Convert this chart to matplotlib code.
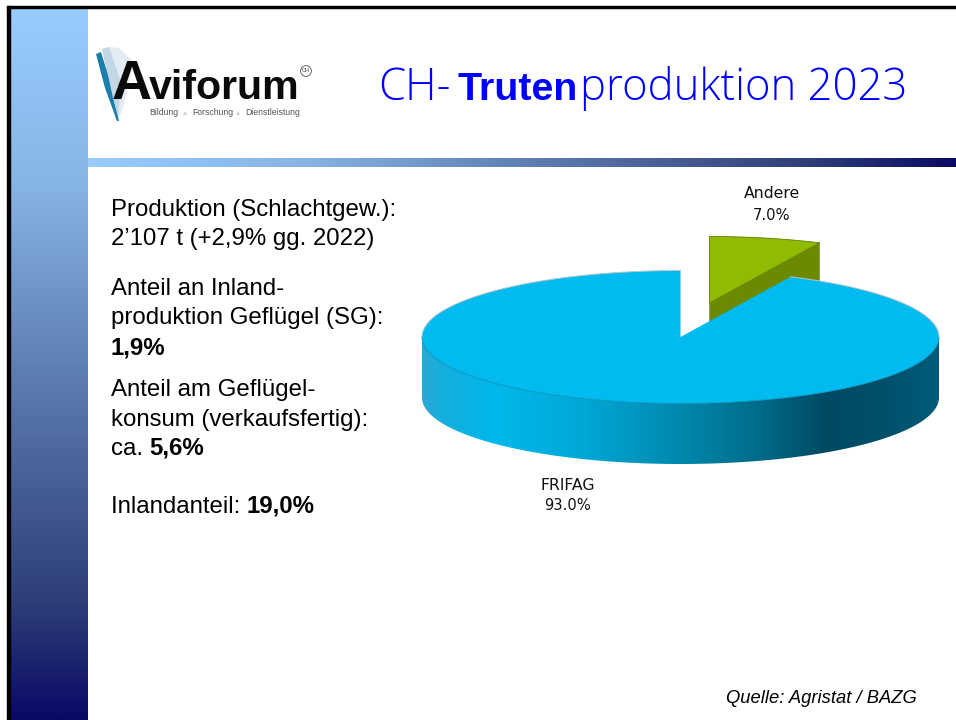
import numpy as np
import matplotlib.pyplot as plt
from matplotlib.colors import LinearSegmentedColormap
from matplotlib.patches import Polygon, Rectangle

# Pie data
labels = ["FRIFAG", "Andere"]
shares = [93.0, 7.0]

# Slide texts
title_parts = ["CH-", "Truten", "produktion 2023"]
source = "Quelle: Agristat / BAZG"

plt.rcParams["font.family"] = ["Liberation Sans", "DejaVu Sans"]

fig = plt.figure(figsize=(9.56, 7.2), dpi=100)
ax = fig.add_axes([0, 0, 1, 1])
ax.axis("off")

# Slide background: left band and header bar
band = LinearSegmentedColormap.from_list(
    "band", [(0, "#99ccff"), (0.25, "#86b4e4"), (0.5, "#5f80b4"), (0.83, "#2f3f78"), (1, "#0a0a66")])
ax.imshow(np.linspace(0, 1, 256)[:, None], cmap=band, extent=(10, 88, 720, 8), aspect="auto", zorder=1)
ax.imshow(np.linspace(0, 1, 256)[None, :], cmap=band, extent=(88, 956, 167, 158), aspect="auto", zorder=1)
ax.set_xlim(0, 956)
ax.set_ylim(720, 0)
ax.add_patch(Rectangle((7.5, 6), 948.5, 2.3, color="black", zorder=2))
ax.add_patch(Rectangle((7.5, 6), 2.5, 714, color="black", zorder=2))

# Logo
swoosh = [("#e4ecf3", [(108, 47), (119, 48), (134, 62), (122, 112), (117, 120)]),
          ("#c3d6e4", [(102, 49), (109, 47), (121, 82), (118, 120), (116, 120)]),
          ("#1a7ea8", [(96, 54), (101, 52), (108, 75), (113, 98), (119, 121), (117, 121), (105, 88)])]
for col, pts in swoosh:
    ax.add_patch(Polygon(pts, closed=True, fc=col, ec="none", zorder=2))
ax.text(112, 99, "A", fontsize=40, fontweight="bold", color="#0a0a0a", va="baseline", zorder=3)
ax.text(149, 99, "viforum", fontsize=29.6, fontweight="bold", color="#0a0a0a", va="baseline", zorder=3)
for tx, word in zip([149, 192, 245], ["Bildung", "Forschung", "Dienstleistung"]):
    ax.text(tx, 115, word, fontsize=6.2, color="#555555", va="baseline", zorder=3)
for tx in [185, 238]:
    ax.add_patch(Polygon([(tx - 2, 115), (tx + 2, 115), (tx, 111)], closed=True, fc="#c8ced4", ec="none", zorder=3))
ax.text(306, 71, "CH", fontsize=4, color="#333333", ha="center", va="center", zorder=3,
        bbox=dict(boxstyle="circle,pad=0.25", fc="none", ec="#333333", lw=0.5))

# Title, one piece after the other
renderer = fig.canvas.get_renderer()
for tx, part, weight, size, fam in zip([378, 458, 580], title_parts, ["light", "bold", "light"], [31.5, 28.4, 31.5],
                                       ["Open Sans", "Liberation Sans", "Open Sans"]):
    ax.text(tx, 100, part, fontsize=size, fontweight=weight, family=fam, color="#0000ff",
            va="baseline", zorder=3)

# Left column
blocks = [(111, 216, [("Produktion (Schlachtgew.):", "normal")]),
          (111, 245, [("2\u2019107 t (+2,9% gg. 2022)", "normal")]),
          (111, 295, [("Anteil an Inland-", "normal")]),
          (111, 324, [("produktion Geflügel (SG):", "normal")]),
          (111, 354, [("1,9%", "bold")]),
          (111, 396, [("Anteil am Geflügel-", "normal")]),
          (111, 426, [("konsum (verkaufsfertig):", "normal")]),
          (111, 455, [("ca. ", "normal"), ("5,6%", "bold")]),
          (111, 513, [("Inlandanteil: ", "normal"), ("19,0%", "bold")])]
for bx, by, runs in blocks:
    for txt, weight in runs:
        t = ax.text(bx, by, txt, fontsize=17.3, fontweight=weight, color="black", va="baseline", zorder=3)
        bx = t.get_window_extent(renderer).x1

ax.text(917, 703, source, fontsize=13.2, style="italic", color="black", ha="right", va="baseline", zorder=3)

# 3D pie, projected by hand
cx, cy = 680.5, 337.0
rx, ry = 258.5, 66.5
depth = 60.5
off_x, off_y = 29.0, -34.0


def arc(a0, a1, ox=0.0, oy=0.0, dy=0.0, n=240):
    a = np.radians(np.linspace(a0, a1, n))
    return np.column_stack([cx + ox + rx * np.cos(a), cy + oy - ry * np.sin(a) + dy])


# slices run clockwise from 12 o'clock, small one first
split = 90 - 360 * shares[1] / 100

# green slice (exploded), sits behind the blue one
apex = np.array([cx + off_x, cy + off_y])
g_arc = arc(90, split, off_x, off_y)
side = np.vstack([apex, g_arc[-1], g_arc[-1] + [0, depth], apex + [0, depth]])
ax.add_patch(Polygon(side, closed=True, fc="#6b8a00", ec="#8a9a60", lw=0.6, zorder=4))
ax.add_patch(Polygon(np.vstack([apex, g_arc]), closed=True, fc="#8fbc00", ec="#5f7d00", lw=0.6, zorder=5))

# blue slice: side wall with gradient first
wall_cmap = LinearSegmentedColormap.from_list(
    "wall",
    [(0.0, "#2aa9d4"), (0.04, "#14aedd"), (0.14, "#00b8ec"), (0.30, "#00a9d8"), (0.50, "#0088ad"),
     (0.66, "#006a88"), (0.78, "#004a62"), (0.90, "#00506a"), (1.0, "#005c7a")])
front = arc(180, 360)
wall = np.vstack([front, front[::-1] + [0, depth]])
im = ax.imshow(np.linspace(0, 1, 512)[None, :], cmap=wall_cmap, extent=(cx - rx, cx + rx, cy + ry + depth, cy - ry),
               aspect="auto", zorder=6)
clip = Polygon(wall, closed=True, transform=ax.transData, fc="none", ec="none")
ax.add_patch(clip)
im.set_clip_path(clip)
ax.set_xlim(0, 956)
ax.set_ylim(720, 0)

top = np.vstack([[cx, cy], arc(split, -270)])
ax.add_patch(Polygon(top, closed=True, fc="#00bbf0", ec="none", zorder=7))
# darker line on the front edge, light grey rim on the back edge
ax.plot(*arc(180, 360).T, color="#0a8db5", lw=0.6, zorder=8)
ax.plot(*arc(split, 0).T, color="#b8c4c8", lw=0.7, zorder=8)
ax.plot(*arc(90, 180).T, color="#b8c4c8", lw=0.7, zorder=8)

# Pie labels
pie_font = ["DejaVu Sans"]
for lx, ly, name, share in [(772, 194, labels[1], shares[1]), (568, 485, labels[0], shares[0])]:
    ax.text(lx, ly, name, fontsize=11.3, family=pie_font, color="#111111", ha="center", va="center", zorder=9)
    ax.text(lx, ly + 21, f"{share:.1f}%", fontsize=10.6, family=pie_font, color="#111111", ha="center", va="center", zorder=9)

fig.savefig("out.png", dpi=100)
